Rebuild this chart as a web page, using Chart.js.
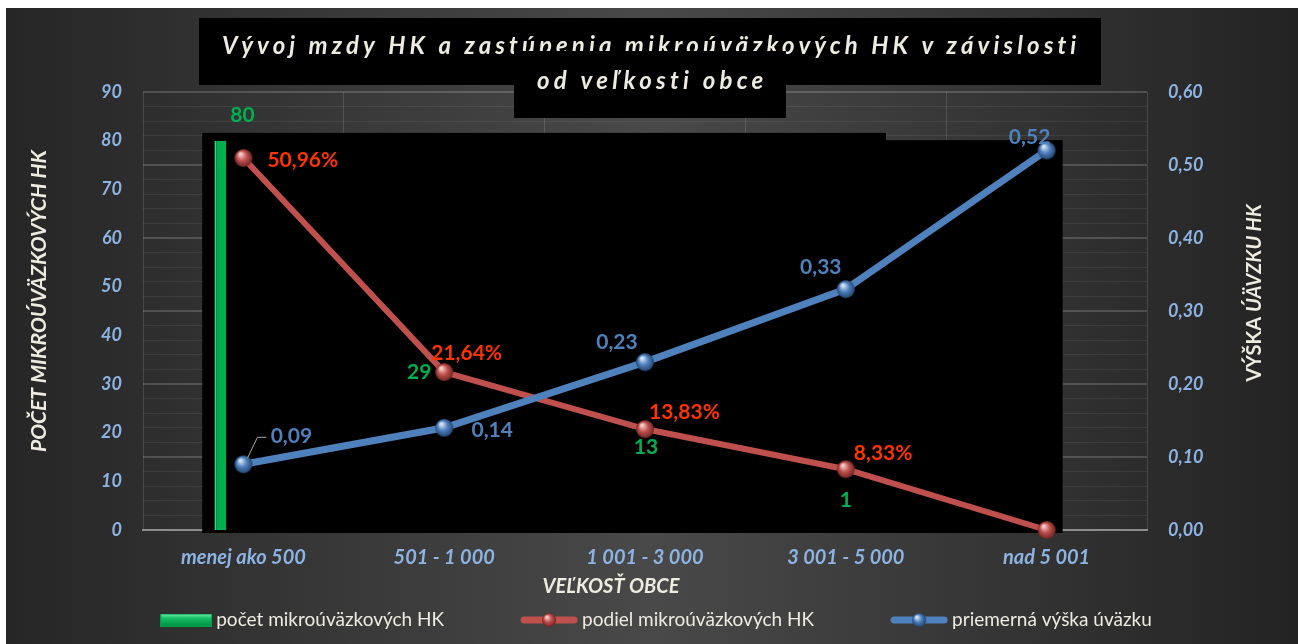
<!DOCTYPE html>
<html>
<head>
<meta charset="utf-8">
<script src="https://cdn.jsdelivr.net/npm/chart.js@4.4.1/dist/chart.umd.min.js"></script>
<style>
  html, body { margin: 0; padding: 0; background: #fff; }
  canvas { display: block; }
</style>
</head>
<body>
<canvas id="chart" width="1298" height="644"></canvas>
<script>
// data
const categories = ['menej ako 500', '501 - 1 000', '1 001 - 3 000', '3 001 - 5 000', 'nad 5 001'];
const pocetHK = [80, 29, 13, 1, 0];
const podielHK = [0.5096, 0.2164, 0.1383, 0.0833, 0];
const vyskaUvazku = [0.09, 0.14, 0.23, 0.33, 0.52];
const leftTicks = [0, 10, 20, 30, 40, 50, 60, 70, 80, 90];
const rightTicks = [0, 0.1, 0.2, 0.3, 0.4, 0.5, 0.6];

const titleLines = ['Vývoj mzdy HK a zastúpenia mikroúväzkových HK v závislosti', 'od veľkosti obce'];
const FONT = 'Lato, "Open Sans", sans-serif';
const tickBlue = '#8db3e2';
const cream = '#eeece1';

// label placement per point (offsets from the point, in px)
const labelStyles = {
  0: { color: '#00b050', align: 'center', dx: [-1, -25, 1, 0, 0], dy: [-25, -17, -19, -25, 0], fmt: v => String(v) },
  2: { color: '#ff3300', align: 'left', dx: [24, -13, 4, 8, 0], dy: [2, -19, -17, -16, 0], fmt: v => (v * 100).toFixed(2).replace('.', ',') + '%' },
  3: { color: '#4f81bd', align: 'center', dx: [48, 48, -28, -25, -17], dy: [-28, 2, -20, -22, -13], fmt: v => v.toFixed(2).replace('.', ',') }
};

function sphere(base, light, dark, r) {
  const c = document.createElement('canvas');
  c.width = c.height = r * 2 + 2;
  const g = c.getContext('2d');
  const m = r + 1;
  const grad = g.createRadialGradient(m - r * 0.35, m - r * 0.45, r * 0.1, m, m, r);
  grad.addColorStop(0, light);
  grad.addColorStop(0.5, base);
  grad.addColorStop(1, dark);
  g.fillStyle = grad;
  g.beginPath();
  g.arc(m, m, r, 0, Math.PI * 2);
  g.fill();
  return c;
}

function lineMarker(color, ball) {
  const c = document.createElement('canvas');
  c.width = 58; c.height = 16;
  const g = c.getContext('2d');
  g.strokeStyle = color; g.lineWidth = 7; g.lineCap = 'round';
  g.beginPath(); g.moveTo(4, 8); g.lineTo(54, 8); g.stroke();
  g.drawImage(ball, 29 - ball.width / 2, 8 - ball.height / 2);
  return c;
}

function barMarker() {
  const c = document.createElement('canvas');
  c.width = 52; c.height = 13;
  const g = c.getContext('2d');
  const grad = g.createLinearGradient(0, 0, 0, 13);
  grad.addColorStop(0, '#7ff0b0');
  grad.addColorStop(0.35, '#16c466');
  grad.addColorStop(1, '#008a3e');
  g.fillStyle = grad;
  g.fillRect(0, 0, 52, 13);
  g.strokeStyle = '#00a04a';
  g.strokeRect(0.5, 0.5, 51, 12);
  return c;
}

const redBall = sphere('#c0504d', '#f6cfcd', '#6e2523', 9);
const blueBall = sphere('#4f81bd', '#d6e6fa', '#22446e', 9);
const legendMarks = [barMarker(), null, lineMarker('#c0504d', sphere('#c0504d', '#f6cfcd', '#6e2523', 7)), lineMarker('#4f81bd', sphere('#4f81bd', '#d6e6fa', '#22446e', 7))];

// background
const backgroundPlugin = {
  id: 'bg',
  beforeDraw(chart) {
    const ctx = chart.ctx;
    ctx.save();
    ctx.fillStyle = '#fff';
    ctx.fillRect(0, 0, chart.width, chart.height);
    const g = ctx.createLinearGradient(6, 0, chart.width, 0);
    g.addColorStop(0, '#262626');
    g.addColorStop(0.5, '#494949');
    g.addColorStop(1, '#232323');
    ctx.fillStyle = g;
    ctx.fillRect(6, 8, chart.width - 6, chart.height - 8);
    ctx.restore();
  }
};

function drawSpaced(ctx, text, x, y, width) {
  ctx.letterSpacing = '0px';
  const w = ctx.measureText(text).width;
  const ls = (width - w) / (text.length - 1);
  ctx.letterSpacing = ls + 'px';
  ctx.fillText(text, x, y);
  ctx.letterSpacing = '0px';
}

// black panels: plot overlay and the title boxes
const panelPlugin = {
  id: 'panels',
  beforeDatasetsDraw(chart) {
    const ctx = chart.ctx;
    const x = chart.scales.x, yR = chart.scales.y1, area = chart.chartArea;
    const cw = x.getPixelForValue(1) - x.getPixelForValue(0);
    const left = x.getPixelForValue(0) - cw * 0.205;
    const right = x.getPixelForValue(4) + cw * 0.08;
    const step = x.getPixelForValue(3) + cw * 0.2;
    const top1 = yR.getPixelForValue(0.544);
    const top2 = yR.getPixelForValue(0.534);
    const bottom = area.bottom + 3;
    ctx.save();
    ctx.fillStyle = '#000';
    ctx.fillRect(left, top1, step - left, bottom - top1);
    ctx.fillRect(step, top2, right - step, bottom - top2);

    // title
    ctx.fillRect(199, 18, 902, 67);
    ctx.fillStyle = cream;
    ctx.textBaseline = 'alphabetic';
    ctx.textAlign = 'left';
    ctx.font = 'italic bold 24px ' + FONT;
    drawSpaced(ctx, titleLines[0], 222, 54, 854);
    ctx.fillStyle = '#000';
    ctx.fillRect(514, 51, 272, 67);
    ctx.fillStyle = cream;
    drawSpaced(ctx, titleLines[1], 537, 89, 226);
    ctx.restore();
  }
};

// data labels, axis titles, legend
const labelPlugin = {
  id: 'labels',
  afterDatasetsDraw(chart) {
    const ctx = chart.ctx;
    const x = chart.scales.x;
    ctx.save();
    ctx.font = 'bold 21px ' + FONT;
    ctx.textBaseline = 'middle';
    Object.keys(labelStyles).forEach(k => {
      const di = Number(k);
      const st = labelStyles[k];
      const ds = chart.data.datasets[di];
      const meta = chart.getDatasetMeta(di);
      const scale = chart.scales[ds.yAxisID];
      ds.data.forEach((v, i) => {
        if (!v) return;
        let px, py;
        if (meta.type === 'line') { px = meta.data[i].x; py = meta.data[i].y; }
        else { px = x.getPixelForValue(i); py = scale.getPixelForValue(v); }
        if (di === 3 && i === 0) {
          ctx.strokeStyle = '#a6a6a6';
          ctx.lineWidth = 1;
          ctx.beginPath();
          ctx.moveTo(px + 4, py - 6);
          ctx.lineTo(px + 14, py - 27);
          ctx.lineTo(px + 23, py - 27);
          ctx.stroke();
        }
        ctx.fillStyle = st.color;
        ctx.textAlign = st.align;
        ctx.fillText(st.fmt(v), px + st.dx[i], py + st.dy[i]);
      });
    });

    // axis titles
    ctx.fillStyle = cream;
    ctx.textAlign = 'center';
    ctx.font = 'italic bold 20px ' + FONT;
    ctx.fillText('VEĽKOSŤ OBCE', 611, 587);
    ctx.save();
    ctx.translate(39, 301);
    ctx.rotate(-Math.PI / 2);
    ctx.font = 'italic bold 21px ' + FONT;
    ctx.fillText('POČET MIKROÚVÄZKOVÝCH HK', 0, 0);
    ctx.restore();
    ctx.save();
    ctx.translate(1255, 293);
    ctx.rotate(-Math.PI / 2);
    ctx.textAlign = 'left';
    const a = 'VÝŠKA ', b = 'ÚÄVZKU HK';
    ctx.font = 'bold 20px ' + FONT;
    const wa = ctx.measureText(a).width;
    ctx.font = 'italic bold 20px ' + FONT;
    const wb = ctx.measureText(b).width;
    ctx.font = 'bold 20px ' + FONT;
    ctx.fillText(a, -(wa + wb) / 2, 0);
    ctx.font = 'italic bold 20px ' + FONT;
    ctx.fillText(b, -(wa + wb) / 2 + wa, 0);
    ctx.restore();

    // legend
    ctx.font = '19px ' + FONT;
    ctx.textAlign = 'left';
    const items = chart.data.datasets
      .map((ds, i) => ({ text: ds.label, mark: legendMarks[i] }))
      .filter(it => it.text);
    const gap = 76, inner = 4, cy = 620;
    const widths = items.map(it => it.mark.width + inner + ctx.measureText(it.text).width);
    const total = widths.reduce((s, w) => s + w, 0) + gap * (items.length - 1);
    let cx = 656 - total / 2;
    items.forEach((it, i) => {
      ctx.drawImage(it.mark, cx, cy - it.mark.height / 2);
      ctx.fillStyle = cream;
      ctx.fillText(it.text, cx + it.mark.width + inner, cy);
      cx += widths[i] + gap;
    });
    ctx.restore();
  }
};

function build() {
  const ctx = document.getElementById('chart').getContext('2d');
  new Chart(ctx, {
    type: 'bar',
    data: {
      labels: categories,
      datasets: [
        {
          type: 'bar', label: 'počet mikroúväzkových HK', data: pocetHK, yAxisID: 'y',
          backgroundColor: pocetHK.map((v, i) => i === 0 ? '#00b050' : 'rgba(0,0,0,0)'),
          borderColor: pocetHK.map((v, i) => i === 0 ? '#3fd682' : 'rgba(0,0,0,0)'),
          borderWidth: { left: 2, right: 0, top: 0, bottom: 0 },
          categoryPercentage: 0.458, barPercentage: 0.26, order: 3
        },
        {
          type: 'bar', label: '', data: categories.map(() => null), yAxisID: 'y',
          categoryPercentage: 0.458, barPercentage: 0.26, order: 4
        },
        {
          type: 'line', label: 'podiel mikroúväzkových HK', data: podielHK, yAxisID: 'y1',
          borderColor: '#c0504d', borderWidth: 6, pointStyle: redBall, pointRadius: 9,
          tension: 0, clip: false, order: 2
        },
        {
          type: 'line', label: 'priemerná výška úväzku', data: vyskaUvazku, yAxisID: 'y1',
          borderColor: '#4f81bd', borderWidth: 7, pointStyle: blueBall, pointRadius: 9,
          tension: 0, clip: false, order: 1
        }
      ]
    },
    options: {
      responsive: false,
      animation: false,
      layout: { padding: { left: 6, top: 92, right: 0, bottom: 0 } },
      plugins: {
        title: { display: false },
        tooltip: { enabled: false },
        legend: { display: false }
      },
      scales: {
        x: {
          offset: true,
          grid: { offset: true, color: 'rgba(255,255,255,0.13)', drawTicks: false },
          border: { display: true, color: '#8c8c8c', width: 2 },
          ticks: { color: tickBlue, padding: 16, font: { family: FONT, size: 20, weight: 'bold', style: 'italic' } },
          afterFit: (s) => { s.height = 114; }
        },
        y: {
          position: 'left',
          min: leftTicks[0], max: leftTicks[leftTicks.length - 1],
          grid: { display: false, drawTicks: false },
          border: { display: false },
          ticks: { stepSize: 10, padding: 21, color: tickBlue, font: { family: FONT, size: 18, weight: 'bold', style: 'italic' } },
          afterFit: (s) => { s.width = 137; }
        },
        y1: {
          position: 'right',
          min: rightTicks[0], max: rightTicks[rightTicks.length - 1],
          afterBuildTicks: (s) => {
            const t = [];
            for (let k = 0; k <= 30; k++) t.push({ value: k / 50 });
            s.ticks = t;
          },
          grid: {
            drawTicks: false,
            color: (c) => c.tick && Math.round(c.tick.value * 50) % 5 === 0 ? 'rgba(255,255,255,0.17)' : 'rgba(255,255,255,0.07)',
            lineWidth: (c) => c.tick && Math.round(c.tick.value * 50) % 5 === 0 ? 2 : 1
          },
          border: { display: false },
          ticks: {
            autoSkip: false, padding: 21, color: tickBlue,
            font: { family: FONT, size: 18, weight: 'bold', style: 'italic' },
            callback: (v) => Math.round(v * 50) % 5 === 0 ? v.toFixed(2).replace('.', ',') : ''
          },
          afterFit: (s) => { s.width = 151; }
        }
      }
    },
    plugins: [backgroundPlugin, panelPlugin, labelPlugin]
  });
}

Promise.all([
  document.fonts.load('bold italic 18px Lato'),
  document.fonts.load('bold 20px Lato'),
  document.fonts.load('19px Lato'),
  document.fonts.load('italic bold 24px Lato')
]).then(build, build);
</script>
</body>
</html>
